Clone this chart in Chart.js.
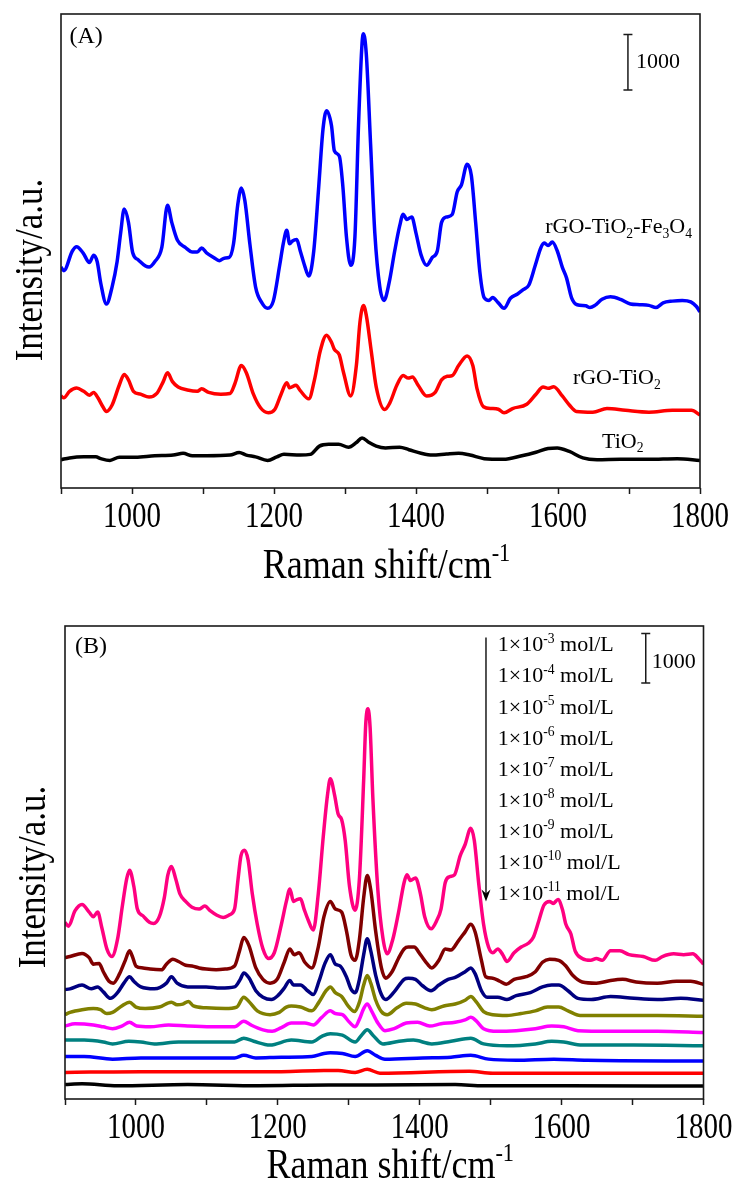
<!DOCTYPE html>
<html lang="en">
<head>
  <meta charset="UTF-8">
  <title>Raman spectra</title>
  <script src="https://cdn.jsdelivr.net/npm/chart.js"></script>
  <style>
    body { margin: 0; background: #fff; }
    #wrap { position: relative; width: 737px; height: 1185px; overflow: hidden; }
    canvas { position: absolute; left: 0; }
  </style>
</head>
<body>
<div id="wrap">
  <canvas id="chartA" width="737" height="592" style="top:0"></canvas>
  <canvas id="chartB" width="737" height="593" style="top:592px"></canvas>
</div>

<script>
  // ---- data: [Raman shift (cm-1), intensity] ----
  // panel (A)
  const rgoTiO2Fe3O4 = [[900,3980],[904,3915],[916,4270],[922,4347],[931,4238],[940,4064],[946,4193],[951,4076],[956,3689],[964,3315],[972,3625],[979,4076],[984,4592],[989,5025],[995,4786],[1001,4238],[1009,4109],[1019,3999],[1024,3980],[1032,4076],[1042,4334],[1050,5096],[1056,4786],[1064,4463],[1075,4334],[1085,4251],[1092,4251],[1098,4322],[1105,4238],[1115,4154],[1123,4096],[1130,4141],[1137,4154],[1143,4399],[1149,5108],[1154,5405],[1159,5173],[1166,4399],[1174,3625],[1183,3335],[1191,3238],[1199,3367],[1208,4012],[1213,4399],[1218,4644],[1222,4399],[1226,4451],[1232,4476],[1237,4270],[1243,4012],[1249,3818],[1256,4270],[1263,5431],[1269,6463],[1274,6798],[1281,6527],[1285,6076],[1292,5979],[1297,5431],[1302,4528],[1308,4012],[1314,4528],[1319,6527],[1324,8011],[1326,8185],[1330,7817],[1336,6205],[1342,4592],[1349,3625],[1355,3380],[1362,3689],[1370,4270],[1377,4721],[1382,4934],[1387,4838],[1394,4883],[1400,4592],[1407,4205],[1415,4012],[1423,4154],[1430,4270],[1436,4786],[1443,4883],[1451,4928],[1458,5334],[1464,5463],[1472,5831],[1478,5624],[1484,4786],[1490,3883],[1496,3431],[1503,3380],[1508,3431],[1516,3335],[1524,3238],[1533,3419],[1543,3496],[1551,3573],[1559,3657],[1568,4012],[1576,4334],[1581,4412],[1586,4367],[1592,4431],[1599,4270],[1606,3980],[1612,3786],[1619,3431],[1627,3302],[1639,3283],[1645,3251],[1652,3290],[1662,3399],[1674,3444],[1688,3399],[1702,3315],[1715,3302],[1728,3290],[1738,3251],[1748,3335],[1761,3367],[1775,3380],[1787,3354],[1795,3270],[1800,3173]];
  const rgoTiO2 = [[900,1658],[904,1625],[912,1742],[922,1800],[932,1742],[940,1671],[946,1722],[952,1625],[959,1464],[964,1380],[972,1496],[982,1851],[989,2045],[995,1948],[1002,1742],[1012,1690],[1024,1638],[1035,1703],[1044,1916],[1050,2077],[1057,1916],[1065,1819],[1078,1767],[1092,1742],[1098,1787],[1108,1722],[1125,1690],[1138,1703],[1145,1883],[1154,2206],[1161,2077],[1171,1690],[1181,1445],[1192,1354],[1201,1413],[1210,1690],[1218,1896],[1222,1806],[1231,1851],[1237,1754],[1249,1606],[1257,1948],[1265,2464],[1274,2754],[1281,2625],[1285,2496],[1292,2399],[1298,2077],[1308,1658],[1316,2206],[1321,2980],[1326,3290],[1330,3109],[1337,2464],[1344,1819],[1356,1413],[1363,1529],[1373,1851],[1382,2025],[1389,1980],[1395,2000],[1403,1851],[1415,1658],[1427,1722],[1436,1948],[1444,2012],[1451,2025],[1460,2206],[1472,2380],[1480,2206],[1486,1787],[1495,1464],[1506,1432],[1516,1419],[1524,1354],[1536,1432],[1556,1509],[1569,1690],[1579,1819],[1586,1795],[1594,1825],[1606,1658],[1616,1496],[1626,1380],[1649,1367],[1669,1432],[1695,1400],[1728,1367],[1761,1400],[1788,1400],[1800,1316]];
  const tiO2 = [[900,510],[912,542],[932,561],[949,561],[956,529],[969,497],[982,555],[1005,555],[1032,581],[1058,593],[1072,626],[1085,581],[1105,581],[1138,593],[1151,639],[1161,593],[1174,561],[1191,497],[1204,561],[1214,606],[1237,593],[1251,606],[1264,755],[1277,787],[1291,787],[1305,735],[1316,819],[1324,903],[1334,819],[1344,755],[1357,722],[1377,735],[1390,690],[1407,626],[1423,593],[1443,613],[1460,626],[1476,593],[1496,529],[1523,516],[1549,581],[1569,645],[1586,710],[1599,722],[1616,658],[1635,542],[1655,510],[1688,516],[1728,516],[1768,529],[1800,497]];

  // panel (B), one array per concentration (mol/L)
  const conc1e3 = [[900,3576],[905,3499],[914,3807],[924,3937],[934,3783],[940,3691],[946,3783],[952,3461],[959,3038],[966,2884],[974,3230],[981,3922],[987,4460],[991,4629],[997,4306],[1002,3845],[1010,3707],[1019,3576],[1025,3553],[1033,3691],[1040,4076],[1045,4537],[1050,4706],[1056,4460],[1062,4153],[1070,3999],[1079,3883],[1089,3845],[1097,3907],[1105,3807],[1113,3730],[1123,3676],[1132,3730],[1139,3845],[1144,4460],[1148,4922],[1153,5037],[1158,4845],[1164,4153],[1171,3537],[1179,3038],[1187,2845],[1195,2961],[1205,3537],[1212,3999],[1217,4253],[1222,3999],[1227,4037],[1232,4053],[1237,3845],[1243,3614],[1250,3422],[1257,4153],[1264,5306],[1270,6152],[1274,6483],[1280,6152],[1285,5768],[1290,5652],[1295,5229],[1301,4306],[1309,3822],[1315,4460],[1321,6460],[1324,7613],[1327,7898],[1330,7536],[1334,6075],[1341,4230],[1348,3268],[1354,2938],[1362,3230],[1370,3768],[1378,4383],[1382,4537],[1387,4422],[1394,4476],[1401,4153],[1407,3691],[1416,3445],[1424,3614],[1430,3845],[1436,4383],[1442,4499],[1449,4537],[1457,4922],[1464,5152],[1472,5483],[1477,5229],[1483,4383],[1490,3537],[1497,3076],[1503,2961],[1510,3038],[1517,2922],[1523,2784],[1533,2961],[1543,3076],[1553,3153],[1560,3268],[1568,3614],[1575,3922],[1583,3999],[1588,3960],[1595,4037],[1601,3845],[1606,3537],[1613,3345],[1619,2999],[1629,2845],[1641,2807],[1649,2845],[1657,2807],[1669,2999],[1682,2999],[1695,2922],[1715,2884],[1732,2807],[1742,2884],[1758,2938],[1772,2922],[1785,2938],[1793,2845],[1800,2730]];
  const conc1e4 = [[900,2861],[907,2884],[924,2945],[934,2861],[940,2730],[948,2745],[954,2576],[962,2384],[968,2345],[977,2538],[985,2807],[991,2999],[995,2884],[1000,2692],[1010,2653],[1020,2630],[1036,2615],[1043,2730],[1052,2830],[1060,2784],[1070,2707],[1079,2692],[1089,2653],[1099,2630],[1113,2615],[1126,2630],[1139,2692],[1146,2999],[1152,3268],[1159,3114],[1169,2653],[1179,2422],[1189,2345],[1199,2422],[1209,2768],[1217,3038],[1223,2922],[1230,2961],[1238,2768],[1248,2653],[1257,3076],[1265,3691],[1274,3999],[1281,3845],[1290,3783],[1297,3384],[1303,2922],[1309,2807],[1315,3230],[1321,4076],[1326,4522],[1331,4230],[1338,3384],[1346,2653],[1352,2445],[1361,2576],[1370,2845],[1378,3038],[1384,3076],[1392,3076],[1401,2922],[1411,2730],[1417,2653],[1427,2807],[1436,3038],[1444,3015],[1454,3191],[1464,3384],[1472,3537],[1478,3384],[1487,2807],[1493,2476],[1503,2445],[1513,2384],[1522,2322],[1533,2422],[1550,2476],[1563,2576],[1573,2768],[1583,2830],[1596,2807],[1606,2692],[1616,2499],[1629,2369],[1649,2345],[1669,2399],[1686,2422],[1705,2369],[1735,2345],[1762,2384],[1782,2384],[1800,2322]];
  const conc1e5 = [[900,2215],[907,2230],[924,2307],[937,2230],[946,2269],[954,2169],[964,2038],[974,2153],[983,2345],[991,2476],[997,2384],[1007,2269],[1026,2230],[1043,2345],[1050,2476],[1058,2345],[1073,2269],[1099,2269],[1119,2245],[1139,2269],[1147,2422],[1152,2553],[1159,2461],[1169,2192],[1179,2061],[1191,2015],[1200,2092],[1209,2245],[1217,2399],[1222,2307],[1232,2307],[1242,2192],[1250,2115],[1258,2384],[1266,2730],[1274,2922],[1281,2730],[1288,2692],[1297,2461],[1303,2230],[1309,2153],[1315,2422],[1321,2922],[1326,3245],[1331,2999],[1338,2499],[1346,2115],[1352,2015],[1364,2169],[1378,2422],[1384,2445],[1394,2422],[1404,2292],[1416,2192],[1427,2307],[1440,2422],[1450,2461],[1464,2576],[1472,2653],[1478,2538],[1487,2192],[1495,2061],[1510,2061],[1523,2015],[1536,2092],[1556,2153],[1573,2269],[1586,2307],[1596,2307],[1609,2192],[1623,2038],[1642,2015],[1669,2076],[1702,2038],[1735,2015],[1768,2038],[1800,1999]];
  const conc1e6 = [[900,1707],[907,1753],[924,1807],[940,1830],[950,1807],[959,1730],[967,1753],[980,1884],[991,1961],[1000,1861],[1013,1830],[1033,1861],[1050,1961],[1058,1907],[1066,1922],[1074,1976],[1081,1884],[1099,1846],[1126,1830],[1142,1861],[1152,2061],[1160,1961],[1171,1784],[1189,1707],[1202,1753],[1212,1861],[1219,1884],[1232,1861],[1248,1784],[1258,1961],[1268,2192],[1274,2269],[1281,2153],[1290,2076],[1299,1884],[1308,1769],[1315,1961],[1321,2307],[1326,2499],[1331,2345],[1338,1999],[1346,1769],[1354,1707],[1368,1846],[1381,1938],[1394,1922],[1407,1846],[1417,1807],[1434,1884],[1450,1922],[1464,1999],[1472,2076],[1480,1961],[1490,1769],[1503,1707],[1523,1692],[1543,1730],[1563,1784],[1580,1861],[1596,1861],[1609,1784],[1626,1692],[1669,1692],[1735,1692],[1800,1676]];
  const conc1e7 = [[900,1476],[914,1523],[940,1500],[954,1461],[967,1423],[980,1476],[991,1553],[1001,1476],[1020,1461],[1046,1500],[1073,1476],[1106,1461],[1139,1461],[1152,1576],[1162,1500],[1179,1400],[1192,1369],[1205,1446],[1219,1538],[1238,1538],[1250,1500],[1262,1653],[1274,1784],[1281,1730],[1291,1707],[1301,1553],[1309,1461],[1315,1615],[1321,1830],[1326,1922],[1332,1784],[1341,1538],[1351,1384],[1364,1423],[1381,1538],[1397,1553],[1414,1476],[1430,1523],[1450,1553],[1464,1600],[1472,1653],[1480,1576],[1490,1423],[1510,1369],[1536,1384],[1563,1423],[1586,1476],[1603,1461],[1623,1384],[1669,1369],[1735,1369],[1800,1346]];
  const conc1e8 = [[900,1192],[927,1192],[954,1154],[967,1115],[990,1169],[1007,1154],[1026,1115],[1060,1154],[1099,1154],[1139,1154],[1152,1230],[1166,1169],[1189,1092],[1219,1192],[1248,1154],[1262,1269],[1274,1323],[1291,1292],[1309,1154],[1318,1292],[1326,1400],[1334,1292],[1348,1115],[1371,1169],[1391,1192],[1417,1115],[1444,1169],[1472,1230],[1490,1115],[1523,1077],[1563,1115],[1586,1169],[1603,1154],[1629,1092],[1702,1092],[1800,1077]];
  const conc1e9 = [[900,861],[927,861],[967,807],[1007,831],[1073,831],[1139,831],[1152,884],[1169,831],[1205,846],[1248,861],[1265,923],[1274,938],[1291,923],[1309,861],[1326,977],[1338,884],[1351,807],[1404,831],[1444,846],[1472,884],[1497,807],[1536,784],[1589,807],[1636,784],[1800,769]];
  const conc1e10 = [[900,538],[1007,554],[1139,554],[1205,554],[1265,577],[1285,577],[1309,538],[1326,600],[1344,523],[1470,561],[1503,523],[1669,523],[1800,523]];
  const conc1e11 = [[900,292],[924,308],[974,269],[1073,292],[1172,269],[1272,285],[1338,285],[1450,292],[1490,269],[1603,269],[1800,261]];

  const seriesA = [rgoTiO2Fe3O4, rgoTiO2, tiO2];
  const colorsA = ['#0000ff', '#ff0000', '#000000'];
  const seriesB = [conc1e3, conc1e4, conc1e5, conc1e6, conc1e7, conc1e8, conc1e9, conc1e10, conc1e11];
  const colorsB = ['#ff0080', '#800000', '#000080', '#808000', '#ff00ff', '#008080', '#0000ff', '#ff0000', '#000000'];
  const exponents = ['-3', '-4', '-5', '-6', '-7', '-8', '-9', '-10', '-11'];
  const xTicks = [1000, 1200, 1400, 1600, 1800];

  const SERIF = '"Liberation Serif", "Times New Roman", serif';

  // draws text made of [string, mode] pieces, mode 0 normal, 1 subscript, 2 superscript
  // k stretches the glyphs vertically (the original figure text is a bit tall)
  function richText(ctx, parts, x, y, size, align, k) {
    k = k || 1;
    let w = 0;
    parts.forEach(([t, m]) => {
      ctx.font = (m ? size * 0.62 : size) + 'px ' + SERIF;
      w += ctx.measureText(t).width;
    });
    let cx = align === 'center' ? x - w / 2 : x;
    ctx.textAlign = 'left';
    ctx.textBaseline = 'alphabetic';
    parts.forEach(([t, m]) => {
      ctx.font = (m ? size * 0.62 : size) + 'px ' + SERIF;
      const dy = (m === 1 ? size * 0.2 : m === 2 ? -size * 0.4 : 0) * k;
      ctx.save();
      ctx.translate(cx, y + dy);
      ctx.scale(1, k);
      ctx.fillText(t, 0, 0);
      ctx.restore();
      cx += ctx.measureText(t).width;
    });
  }

  function scaleBar(ctx, xs, ys, x, from, to) {
    const px = xs.getPixelForValue(x);
    const p1 = ys.getPixelForValue(from), p2 = ys.getPixelForValue(to);
    ctx.beginPath();
    ctx.moveTo(px, p1); ctx.lineTo(px, p2);
    ctx.moveTo(px - 4.5, p1); ctx.lineTo(px + 4.5, p1);
    ctx.moveTo(px - 4.5, p2); ctx.lineTo(px + 4.5, p2);
    ctx.stroke();
  }

  // frame, tick labels, titles and in-plot texts
  const decor = {
    id: 'decor',
    afterDraw(chart, args, o) {
      const {ctx, chartArea: a} = chart;
      const xs = chart.scales.x, ys = chart.scales.y;
      ctx.save();
      ctx.strokeStyle = '#1a1a1a';
      ctx.fillStyle = '#000';
      ctx.lineWidth = 1.6;
      ctx.strokeRect(a.left, a.top, a.right - a.left, a.bottom - a.top);

      // tick labels at the x scale positions
      xTicks.forEach(v => {
        richText(ctx, [[String(v), 0]], xs.getPixelForValue(v), a.bottom + 39, 29, 'center', 1.22);
      });

      // x title with superscript
      richText(ctx, [['Raman shift/cm', 0], ['-1', 2]], (a.left + a.right) / 2 + 6, o.xTitleY, 36, 'center', 1.15);
      // y title
      ctx.save();
      ctx.translate(o.yTitle[0], o.yTitle[1]);
      ctx.rotate(-Math.PI / 2);
      ctx.scale(1, 1.15);
      ctx.font = '35px ' + SERIF;
      ctx.textAlign = 'center';
      ctx.textBaseline = 'alphabetic';
      ctx.fillText('Intensity/a.u.', 0, 0);
      ctx.restore();

      richText(ctx, [[o.panel, 0]], xs.getPixelForValue(o.panelAt[0]), ys.getPixelForValue(o.panelAt[1]), 24);
      o.labels.forEach(l => {
        richText(ctx, l.parts, xs.getPixelForValue(l.at[0]), ys.getPixelForValue(l.at[1]), 22);
      });

      ctx.lineWidth = 1.5;
      scaleBar(ctx, xs, ys, o.bar.x, o.bar.from, o.bar.to);
      richText(ctx, [['1000', 0]], xs.getPixelForValue(o.bar.text[0]), ys.getPixelForValue(o.bar.text[1]), 22);

      if (o.arrow) {
        const px = xs.getPixelForValue(o.arrow.x);
        const t = ys.getPixelForValue(o.arrow.from), b = ys.getPixelForValue(o.arrow.to);
        ctx.beginPath();
        ctx.moveTo(px, t); ctx.lineTo(px, b - 6);
        ctx.stroke();
        ctx.beginPath();
        ctx.moveTo(px, b); ctx.lineTo(px - 4.5, b - 12); ctx.lineTo(px, b - 8); ctx.lineTo(px + 4.5, b - 12);
        ctx.closePath();
        ctx.fill();
      }
      ctx.restore();
    }
  };

  function makeChart(id, series, colors, yMax, box, deco) {
    return new Chart(document.getElementById(id), {
      type: 'line',
      data: {
        datasets: series.map((s, i) => ({
          data: s.map(p => ({x: p[0], y: p[1]})),
          borderColor: colors[i],
          borderWidth: 3.5,
          pointRadius: 0,
          fill: false,
          cubicInterpolationMode: 'monotone'
        }))
      },
      options: {
        responsive: false,
        animation: false,
        events: [],
        layout: { padding: { top: box.top, right: box.right, left: 0, bottom: 0 } },
        plugins: { legend: { display: false }, tooltip: { enabled: false }, decor: deco },
        scales: {
          x: {
            type: 'linear',
            min: 900, max: 1800,
            afterFit(s) { s.height = box.xh; s.paddingLeft = 0; s.paddingRight = 0; },
            ticks: { stepSize: 100, autoSkip: false, maxRotation: 0, display: false },
            grid: { display: true, drawOnChartArea: false, drawTicks: true, tickLength: 6, tickWidth: 1.5, tickColor: '#1a1a1a' },
            border: { display: false }
          },
          y: {
            type: 'linear',
            min: 0, max: yMax,
            afterFit(s) { s.width = box.yw; },
            ticks: { display: false },
            grid: { display: false },
            border: { display: false }
          }
        }
      },
      plugins: [decor]
    });
  }

  makeChart('chartA', seriesA, colorsA, 8540, { top: 14, right: 37, yw: 61, xh: 104 }, {
    panel: '(A)', panelAt: [912, 8024],
    xTitleY: 578, yTitle: [42, 270],
    labels: [
      { parts: [['rGO-TiO', 0], ['2', 1], ['-Fe', 0], ['3', 1], ['O', 0], ['4', 1]], at: [1582, 4592] },
      { parts: [['rGO-TiO', 0], ['2', 1]], at: [1621, 1870] },
      { parts: [['TiO', 0], ['2', 1]], at: [1662, 722] }
    ],
    bar: { x: 1698.5, from: 7172, to: 8172, text: [1709.7, 7559] }
  });

  makeChart('chartB', seriesB, colorsB, 9575, { top: 34, right: 33.5, yw: 65, xh: 86 }, {
    panel: '(B)', panelAt: [914, 9036],
    xTitleY: 1178 - 592, yTitle: [45, 877 - 592],
    labels: exponents.map((e, i) => ({
      parts: [['1\u00d710', 0], [e, 2], [' mol/L', 0]],
      at: [1510, 9059 - i * 627.7]
    })),
    bar: { x: 1718.6, from: 8421, to: 9421, text: [1727, 8728] },
    arrow: { x: 1493.4, from: 9343, to: 3999 }
  });
</script>
</body>
</html>
